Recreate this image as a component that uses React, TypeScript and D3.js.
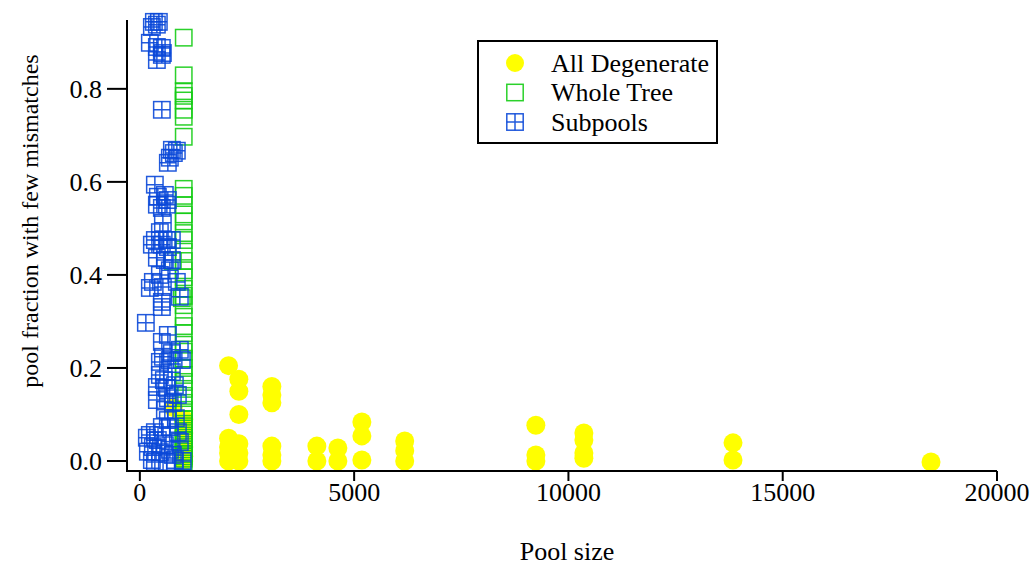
import React from "react";
import * as d3 from "d3";

// Series: [pool size, fraction of the pool with few mismatches]
const allDegenerate: [number, number][] = [
  [780, 0.115], [1024, 0.09], [1024, 0.06], [1024, 0.03], [1024, 0.01], [1024, 0.0],
  [2070, 0.205], [2070, 0.049], [2070, 0.03], [2070, 0.017], [2070, 0.0],
  [2310, 0.176], [2310, 0.15], [2310, 0.1], [2310, 0.037], [2310, 0.017], [2310, 0.0],
  [3080, 0.16], [3080, 0.142], [3080, 0.125], [3080, 0.032], [3080, 0.013], [3080, 0.0],
  [4130, 0.032], [4130, 0.0],
  [4620, 0.028], [4620, 0.0],
  [5180, 0.084], [5180, 0.054], [5180, 0.002],
  [6180, 0.043], [6180, 0.022], [6180, 0.0],
  [9240, 0.077], [9240, 0.013], [9240, 0.0],
  [10360, 0.06], [10360, 0.045], [10360, 0.017], [10360, 0.006],
  [13840, 0.039], [13840, 0.002],
  [18460, -0.002],
];

const wholeTree: [number, number][] = [
  [1024, 0.91], [1024, 0.829], [1024, 0.795], [1024, 0.785], [1024, 0.775],
  [1024, 0.755], [1024, 0.74], [1024, 0.697],
  [1024, 0.585], [1024, 0.57], [1024, 0.55], [1024, 0.53], [1024, 0.515],
  [1024, 0.49], [1024, 0.475], [1024, 0.45], [770, 0.43], [1024, 0.43], [1024, 0.41],
  [1024, 0.395], [1024, 0.37], [1024, 0.355], [980, 0.35], [1024, 0.335], [1024, 0.31],
  [1024, 0.29], [1024, 0.275], [1024, 0.25], [1024, 0.235], [1024, 0.22],
  [1024, 0.2], [1024, 0.185], [1024, 0.17], [1024, 0.155], [1024, 0.14],
  [1024, 0.125], [1024, 0.11], [1024, 0.1], [1024, 0.09], [1024, 0.08],
  [1024, 0.07], [1024, 0.06], [1024, 0.05], [1024, 0.045], [1024, 0.04],
  [1024, 0.03], [1024, 0.025], [1024, 0.02], [1024, 0.015], [1024, 0.01],
  [1024, 0.005], [1024, 0.0],
];

const subpools: [number, number][] = [
  [327, 0.944], [443, 0.944], [280, 0.933], [397, 0.938], [233, 0.899],
  [397, 0.89], [513, 0.888], [537, 0.877], [397, 0.862], [513, 0.873],
  [513, 0.755],
  [747, 0.669], [793, 0.662], [653, 0.641], [863, 0.667], [700, 0.652],
  [350, 0.594], [420, 0.568], [583, 0.572], [653, 0.561], [397, 0.551],
  [513, 0.544], [630, 0.551], [537, 0.512], [467, 0.492], [350, 0.475],
  [630, 0.475], [747, 0.475], [280, 0.465], [513, 0.465], [653, 0.46],
  [397, 0.437], [583, 0.432], [747, 0.432], [467, 0.4], [700, 0.41],
  [303, 0.385], [233, 0.372], [537, 0.374], [863, 0.385], [933, 0.353],
  [513, 0.342], [513, 0.331], [140, 0.297], [653, 0.271], [513, 0.256],
  [747, 0.232], [537, 0.224], [933, 0.239],
  [467, 0.213], [700, 0.217], [980, 0.217], [747, 0.191], [467, 0.185],
  [560, 0.174], [817, 0.163], [397, 0.159], [630, 0.157], [887, 0.142],
  [653, 0.135], [397, 0.131], [770, 0.125], [583, 0.11], [840, 0.092],
  [653, 0.088], [513, 0.073], [700, 0.073], [350, 0.062], [887, 0.062],
  [233, 0.056], [163, 0.05], [420, 0.045], [933, 0.041], [583, 0.034],
  [303, 0.03], [700, 0.024], [187, 0.02], [467, 0.019], [770, 0.013],
  [280, 0.002], [817, 0.002], [350, -0.002], [630, -0.002], [1000, 0.0],
];

const xTicks = [0, 5000, 10000, 15000, 20000];
const yTicks = [0, 0.2, 0.4, 0.6, 0.8];

const legendLabels = ["All Degenerate", "Whole Tree", "Subpools"];

const W = 1034;
const H = 566;
const FONT = "'Liberation Serif', 'Times New Roman', serif";
const YELLOW = "#ffff00";
const GREEN = "#14cc14";
const BLUE = "#0a48d8";
const Y_TICK = 20;
const X_TICK = 10;

export default function App() {
  const x = d3.scaleLinear().domain([-300, 20000]).range([127, 997]);
  const y = d3.scaleLinear().domain([-0.0215, 0.948]).range([471, 20]);
  const fmtY = d3.format(".1f");

  const sq = 8.2; // half side of square markers

  const square = (cx: number, cy: number, color: string, cross: boolean, key: string) => (
    <g key={key} stroke={color} strokeWidth={1.5} fill="none" strokeOpacity={0.9}>
      <rect x={cx - sq} y={cy - sq} width={sq * 2} height={sq * 2} />
      {cross && (
        <path d={`M${cx - sq},${cy}H${cx + sq}M${cx},${cy - sq}V${cy + sq}`} />
      )}
    </g>
  );

  const x0 = x.range()[0];
  const yBase = y.range()[0];

  return (
    <svg
      width={W}
      height={H}
      style={{ position: "absolute", left: 0, top: 0, background: "#fff" }}
      fontFamily={FONT}
    >
      {/* markers */}
      <g>
        {allDegenerate.map(([px, py], i) => (
          <circle key={`a${i}`} cx={x(px)} cy={y(py)} r={9.5} fill={YELLOW} />
        ))}
      </g>
      <g>{wholeTree.map(([px, py], i) => square(x(px), y(py), GREEN, false, `w${i}`))}</g>
      <g>{subpools.map(([px, py], i) => square(x(px), y(py), BLUE, true, `s${i}`))}</g>

      {/* axes */}
      <g stroke="#000" strokeWidth={2}>
        <line x1={x0} x2={x0} y1={y.range()[1]} y2={yBase + 1} />
        <line x1={x0 - 1} x2={x.range()[1]} y1={yBase} y2={yBase} />
        {yTicks.map((t) => (
          <line key={`yt${t}`} x1={x0 - Y_TICK} x2={x0} y1={y(t)} y2={y(t)} />
        ))}
        {xTicks.map((t) => (
          <line key={`xt${t}`} x1={x(t)} x2={x(t)} y1={yBase} y2={yBase + X_TICK} />
        ))}
      </g>
      <g fontSize={26} fill="#000">
        {yTicks.map((t) => (
          <text key={`yl${t}`} x={x0 - 25} y={y(t)} dy="0.34em" textAnchor="end">
            {fmtY(t)}
          </text>
        ))}
        {xTicks.map((t) => (
          <text key={`xl${t}`} x={x(t)} y={501} textAnchor="middle">
            {t}
          </text>
        ))}
      </g>
      <text
        transform="translate(38,221) rotate(-90)"
        textAnchor="middle"
        fontSize={24}
        fill="#000"
      >
        pool fraction with few mismatches
      </text>
      <text x={567} y={560} textAnchor="middle" fontSize={26} fill="#000">
        Pool size
      </text>

      {/* legend */}
      <g>
        <rect x={478} y={41} width={239} height={102} fill="#fff" stroke="#000" strokeWidth={2} />
        {legendLabels.map((label, i) => {
          const cy = 63 + i * 29.5;
          return (
            <g key={label}>
              {i === 0 && <circle cx={515} cy={cy} r={9} fill={YELLOW} />}
              {i === 1 && square(515, cy, GREEN, false, "lg1")}
              {i === 2 && square(515, cy, BLUE, true, "lg2")}
              <text x={551} y={cy} dy="0.34em" fontSize={26} fill="#000">
                {label}
              </text>
            </g>
          );
        })}
      </g>
    </svg>
  );
}
